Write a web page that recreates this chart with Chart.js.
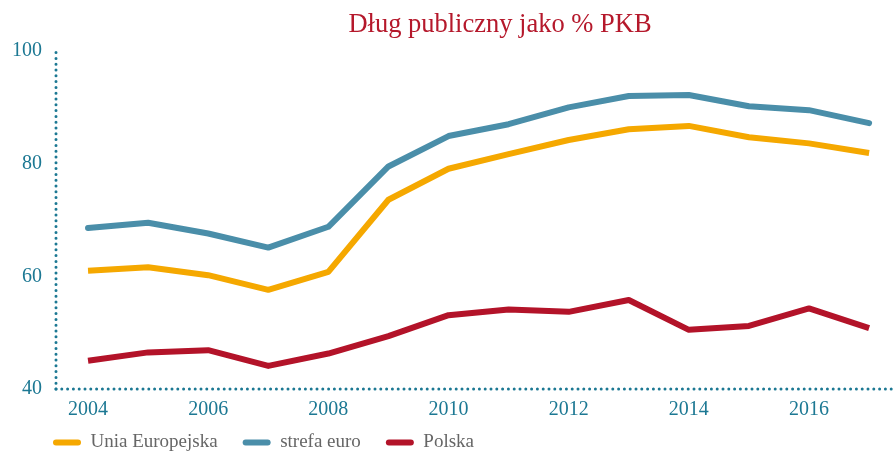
<!DOCTYPE html>
<html>
<head>
<meta charset="utf-8">
<script src="https://cdn.jsdelivr.net/npm/chart.js@4"></script>
<style>
  html, body { margin: 0; padding: 0; background: #fff; }
  #wrap { width: 895px; height: 452px; position: relative; }
</style>
</head>
<body>
<div id="wrap"><canvas id="c" width="895" height="452"></canvas></div>
<script>
const years = [2004, 2005, 2006, 2007, 2008, 2009, 2010, 2011, 2012, 2013, 2014, 2015, 2016, 2017];
const euSeries = [61.0, 61.6, 60.2, 57.6, 60.8, 73.6, 79.1, 81.7, 84.2, 86.1, 86.7, 84.7, 83.6, 81.9];
const euroAreaSeries = [68.6, 69.5, 67.6, 65.1, 68.8, 79.5, 84.9, 87.0, 90.0, 92.0, 92.2, 90.2, 89.5, 87.2];
const polandSeries = [45.0, 46.5, 46.9, 44.1, 46.3, 49.4, 53.1, 54.1, 53.7, 55.8, 50.5, 51.2, 54.3, 50.8];
const seriesNames = ['Unia Europejska', 'strefa euro', 'Polska'];
const yTicks = [40, 60, 80, 100];
const xTicks = [2004, 2006, 2008, 2010, 2012, 2014, 2016];
const chartTitle = 'Dług publiczny jako % PKB';

const AXIS = '#1c7893';
const SERIF = "'Liberation Serif', 'DejaVu Serif', serif";

const toPts = arr => arr.map((v, i) => ({ x: years[i], y: v }));

const titlePlugin = {
  id: 'customTitle',
  afterDraw(chart) {
    const ctx = chart.ctx;
    ctx.save();
    ctx.font = "26.5px " + SERIF;
    ctx.fillStyle = '#b5182b';
    ctx.textAlign = 'center';
    ctx.textBaseline = 'middle';
    ctx.fillText(chartTitle, 500, 25);
    ctx.restore();
  }
};

const dottedAxes = {
  id: 'dottedAxes',
  beforeDatasetsDraw(chart) {
    const { ctx, chartArea: a } = chart;
    ctx.save();
    ctx.strokeStyle = AXIS;
    ctx.lineWidth = 3;
    ctx.lineCap = 'round';
    ctx.setLineDash([0, 5.8]);
    ctx.beginPath();
    ctx.moveTo(a.left, a.bottom);
    ctx.lineTo(a.left, a.top - 2);
    ctx.stroke();
    ctx.beginPath();
    ctx.moveTo(a.left, a.bottom);
    ctx.lineTo(chart.width, a.bottom);
    ctx.stroke();
    ctx.restore();
  }
};

const legendPlace = {
  id: 'legendPlace',
  afterLayout(chart) {
    const lg = chart.legend;
    if (lg) {
      lg.left = 28;
      lg.top = 408;
      lg.bottom = chart.height;
      lg.height = chart.height - 408;
    }
  }
};

new Chart(document.getElementById('c'), {
  type: 'line',
  data: {
    datasets: [
      { label: seriesNames[0], data: toPts(euSeries), borderColor: '#f5a800', backgroundColor: '#f5a800', borderWidth: 6, pointRadius: 0, tension: 0, borderJoinStyle: 'round' },
      { label: seriesNames[1], data: toPts(euroAreaSeries), borderColor: '#4a8ea9', backgroundColor: '#4a8ea9', borderWidth: 6, pointRadius: 0, tension: 0, borderCapStyle: 'round', borderJoinStyle: 'round' },
      { label: seriesNames[2], data: toPts(polandSeries), borderColor: '#b31329', backgroundColor: '#b31329', borderWidth: 6, pointRadius: 0, tension: 0, borderJoinStyle: 'round' }
    ]
  },
  options: {
    responsive: false,
    animation: false,
    devicePixelRatio: 1,
    layout: { padding: { top: 51, left: 0, right: 0, bottom: 0 } },
    scales: {
      x: {
        type: 'linear',
        min: 2003.467,
        max: 2017.431,
        afterBuildTicks(scale) { scale.ticks = xTicks.map(v => ({ value: v })); },
        afterFit(scale) { scale.height = 34; },
        ticks: {
          color: AXIS,
          font: { family: SERIF, size: 20 },
          padding: 9,
          callback: v => String(v),
          maxRotation: 0
        },
        grid: { display: false, drawTicks: false },
        border: { display: false }
      },
      y: {
        min: 40,
        max: 100,
        afterBuildTicks(scale) { scale.ticks = yTicks.map(v => ({ value: v })); },
        afterFit(scale) { scale.width = 56; },
        ticks: {
          color: AXIS,
          font: { family: SERIF, size: 20 },
          padding: 14
        },
        grid: { display: false, drawTicks: false },
        border: { display: false }
      }
    },
    plugins: {
      title: { display: false },
      tooltip: { enabled: false },
      legend: {
        display: true,
        position: 'bottom',
        align: 'start',
        maxHeight: 29,
        labels: {
          boxWidth: 28,
          boxHeight: 6,
          useBorderRadius: true,
          borderRadius: 3,
          padding: 25,
          color: '#666666',
          font: { family: SERIF, size: 19 },
          generateLabels(chart) {
            return chart.data.datasets.map((d, i) => ({
              text: d.label,
              fillStyle: d.borderColor,
              strokeStyle: d.borderColor,
              lineWidth: 0,
              fontColor: '#666666',
              datasetIndex: i,
              hidden: false,
              borderRadius: 3
            }));
          }
        }
      }
    }
  },
  plugins: [titlePlugin, dottedAxes, legendPlace]
});
</script>
</body>
</html>
